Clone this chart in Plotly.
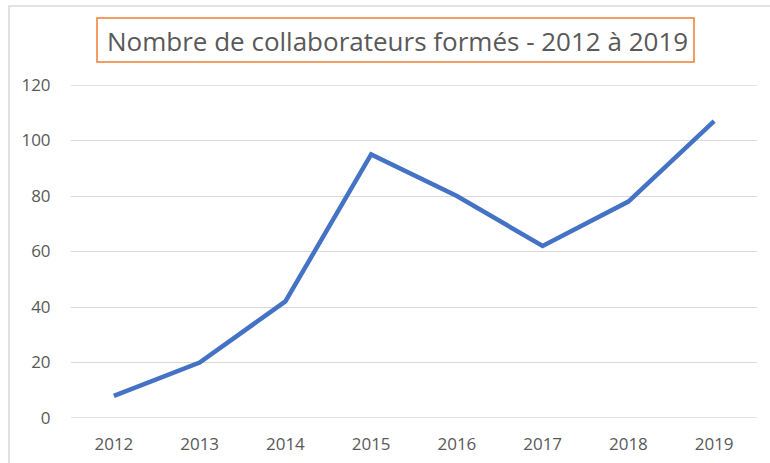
import plotly.graph_objects as go

years = ["2012", "2013", "2014", "2015", "2016", "2017", "2018", "2019"]
trained = [8, 20, 42, 95, 80, 62, 78, 107]
y_ticks = [0, 20, 40, 60, 80, 100, 120]
title_text = "Nombre de collaborateurs formés - 2012 à 2019"

W, H = 770, 463
L, R, T, B = 71, 13, 85, 45
pw, ph = W - L - R, H - T - B

def px(x):
    return (x - L) / pw

def py(y):
    return (H - B - y) / ph

GRID = "#d9d9d9"

fig = go.Figure()
fig.add_trace(go.Scatter(
    x=years, y=trained, mode="lines",
    line=dict(color="#4472C4", width=4.5),
    hoverinfo="x+y",
))

shapes = [
    # outer chart border
    dict(type="rect", xref="paper", yref="paper",
         x0=px(9), x1=px(800), y0=py(500), y1=py(6),
         line=dict(color=GRID, width=1.5), layer="below"),
    # title box
    dict(type="rect", xref="paper", yref="paper",
         x0=px(97), x1=px(694), y0=py(62), y1=py(18),
         line=dict(color="#ED7D31", width=1.5), fillcolor="white", layer="below"),
]
# edge gridlines (plotly hides grid at the range edges)
for v in (y_ticks[0], y_ticks[-1]):
    shapes.append(dict(type="line", xref="paper", yref="y",
                       x0=0, x1=1, y0=v, y1=v,
                       line=dict(color=GRID, width=1.3), layer="below"))

fig.update_layout(
    width=W, height=H,
    margin=dict(l=L, r=R, t=T, b=B),
    paper_bgcolor="white", plot_bgcolor="white",
    showlegend=False,
    font=dict(family="Open Sans", color="#595959"),
    xaxis=dict(
        type="category", range=[-0.5, 7.5], automargin=False,
        showgrid=False, zeroline=False, showline=False,
        ticks="outside", ticklen=11, tickcolor="rgba(0,0,0,0)",
        tickfont=dict(size=17, color="#595959"),
    ),
    yaxis=dict(
        range=[0, 120], tickvals=y_ticks, automargin=False,
        showgrid=True, gridcolor=GRID, gridwidth=1.3,
        zeroline=False, showline=False,
        ticks="outside", ticklen=16, tickcolor="rgba(0,0,0,0)",
        tickfont=dict(size=17, color="#595959"),
    ),
    shapes=shapes,
    annotations=[
        dict(text=title_text, xref="paper", yref="paper",
             x=px(397), y=py(41), xanchor="center", yanchor="middle",
             showarrow=False,
             font=dict(family="Open Sans", size=26, color="#595959")),
    ],
)

fig.write_html("out.html", config={"displayModeBar": False},
               post_script="document.body.style.margin='0';")
